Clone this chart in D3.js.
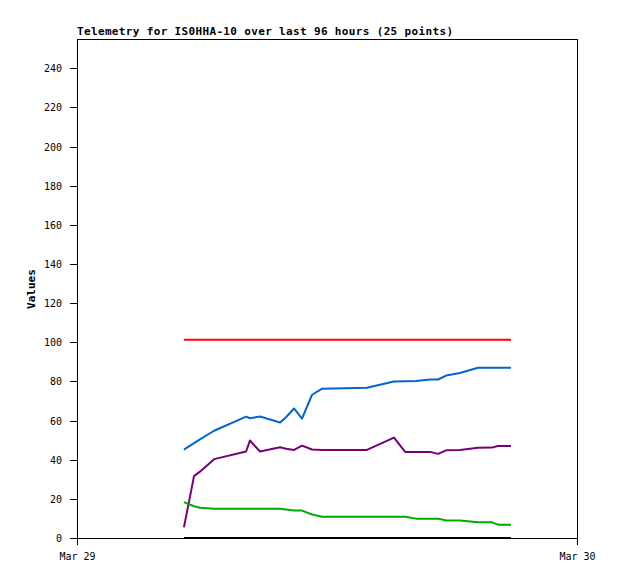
<!DOCTYPE html>
<html>
<head>
<meta charset="utf-8">
<script src="https://cdn.jsdelivr.net/npm/d3@7"></script>
<style>
  html, body { margin: 0; padding: 0; background: #fff; }
  svg { display: block; }
  .mono { font-family: "DejaVu Sans Mono", "Liberation Mono", monospace; }
</style>
</head>
<body>
<svg id="chart" width="618" height="579"></svg>
<script>
// ---- data ----
const title = "Telemetry for IS0HHA-10 over last 96 hours (25 points)";
const yLabel = "Values";
const times = ["05:08","05:37","05:54","06:35","08:07","08:18","08:47","09:45","10:02","10:25",
               "10:48","11:17","11:46","13:55","15:13","15:45","16:16","16:57","17:20","17:43",
               "18:23","19:15","19:55","20:12","20:50"];
const seriesRed    = [101.3,101.3,101.3,101.3,101.3,101.3,101.3,101.3,101.3,101.3,101.3,101.3,101.3,101.3,101.3,101.3,101.3,101.3,101.3,101.3,101.3,101.3,101.3,101.3,101.3];
const seriesBlue   = [45.2,48.5,50.4,54.8,62.0,61.2,62.1,59.0,61.7,66.2,61.0,73.2,76.3,76.8,80.0,80.1,80.2,81.0,81.0,83.0,84.3,87.0,87.0,87.0,87.0];
const seriesPurple = [5.5,31.6,33.9,40.3,44.2,49.8,44.2,46.4,45.6,45.0,47.2,45.2,45.0,45.0,51.3,44.0,44.0,44.0,43.0,44.8,45.0,46.1,46.2,47.0,47.0];
const seriesGreen  = [18.3,16.2,15.5,15.0,15.0,15.0,15.0,15.0,14.6,14.0,14.0,12.0,10.9,10.9,10.9,10.9,9.9,9.9,9.9,8.9,8.9,8.0,8.0,6.8,6.8];
const seriesBlack  = [0,0,0,0,0,0,0,0,0,0,0,0,0,0,0,0,0,0,0,0,0,0,0,0,0];
const yTicks = [0,20,40,60,80,100,120,140,160,180,200,220,240];
const xTickDays = [29, 30];

// ---- layout ----
const mLeft = 77, mRight = 577, mTop = 39, mBottom = 538;
const svg = d3.select("#chart");

const parseT = s => { const [h,m] = s.split(":").map(Number); return new Date(2024, 2, 29, h, m); };
const dates = times.map(parseT);

const x = d3.scaleTime().domain([new Date(2024,2,29), new Date(2024,2,30)]).range([mLeft, mRight]);
const y = d3.scaleLinear().domain([0, 255]).range([mBottom, mTop]);

// frame (top + right)
svg.append("path")
  .attr("d", `M${mLeft},${mTop + 0.5}H${mRight + 0.5}V${mBottom}`)
  .attr("fill","none").attr("stroke","#000").attr("stroke-width",1)
  .attr("shape-rendering","crispEdges");

// y axis
const yAxis = d3.axisLeft(y).tickValues(yTicks).tickSize(7).tickPadding(8).tickSizeOuter(0);
const gy = svg.append("g").attr("transform",`translate(${mLeft},0)`).call(yAxis);
gy.select(".domain").remove();
gy.append("line").attr("x1",0.5).attr("x2",0.5).attr("y1",mTop).attr("y2",mBottom+7)
  .attr("stroke","#000").attr("shape-rendering","crispEdges");
gy.selectAll(".tick line").attr("stroke","#000").attr("shape-rendering","crispEdges");
gy.selectAll(".tick text").attr("class","mono").attr("font-size","10px").attr("fill","#000")
  .attr("dy","0.35em");

// x axis
const xAxis = d3.axisBottom(x).tickValues(xTickDays.map(d => new Date(2024,2,d)))
  .tickFormat(d3.timeFormat("%b %d")).tickSize(7).tickPadding(8).tickSizeOuter(0);
const gx = svg.append("g").attr("transform",`translate(0,${mBottom})`).call(xAxis);
gx.select(".domain").remove();
gx.append("line").attr("x1",mLeft-7).attr("x2",mRight).attr("y1",0.5).attr("y2",0.5)
  .attr("stroke","#000").attr("shape-rendering","crispEdges");
gx.selectAll(".tick line").attr("stroke","#000").attr("shape-rendering","crispEdges");
gx.selectAll(".tick text").attr("class","mono").attr("font-size","10px").attr("fill","#000");

// series
const series = [
  {vals: seriesRed, color: "#ff0000"},
  {vals: seriesBlue, color: "#0066cc"},
  {vals: seriesPurple, color: "#770077"},
  {vals: seriesGreen, color: "#00aa00"},
  {vals: seriesBlack, color: "#000000"}
];
const line = d3.line().x((d,i) => x(dates[i])).y(d => y(d));
series.forEach(s => {
  svg.append("path").datum(s.vals)
    .attr("d", line)
    .attr("fill","none")
    .attr("stroke", s.color)
    .attr("stroke-width", 2)
    .attr("stroke-linejoin","round");
});

// title
svg.append("text").attr("class","mono")
  .attr("x", mLeft).attr("y", 35)
  .attr("font-size","11px").attr("font-weight","bold")
  .attr("textLength", 376).attr("lengthAdjust","spacing")
  .text(title);

// y label
svg.append("text").attr("class","mono")
  .attr("transform","translate(35,289) rotate(-90)")
  .attr("text-anchor","middle")
  .attr("font-size","11px").attr("font-weight","bold")
  .text(yLabel);
</script>
</body>
</html>
